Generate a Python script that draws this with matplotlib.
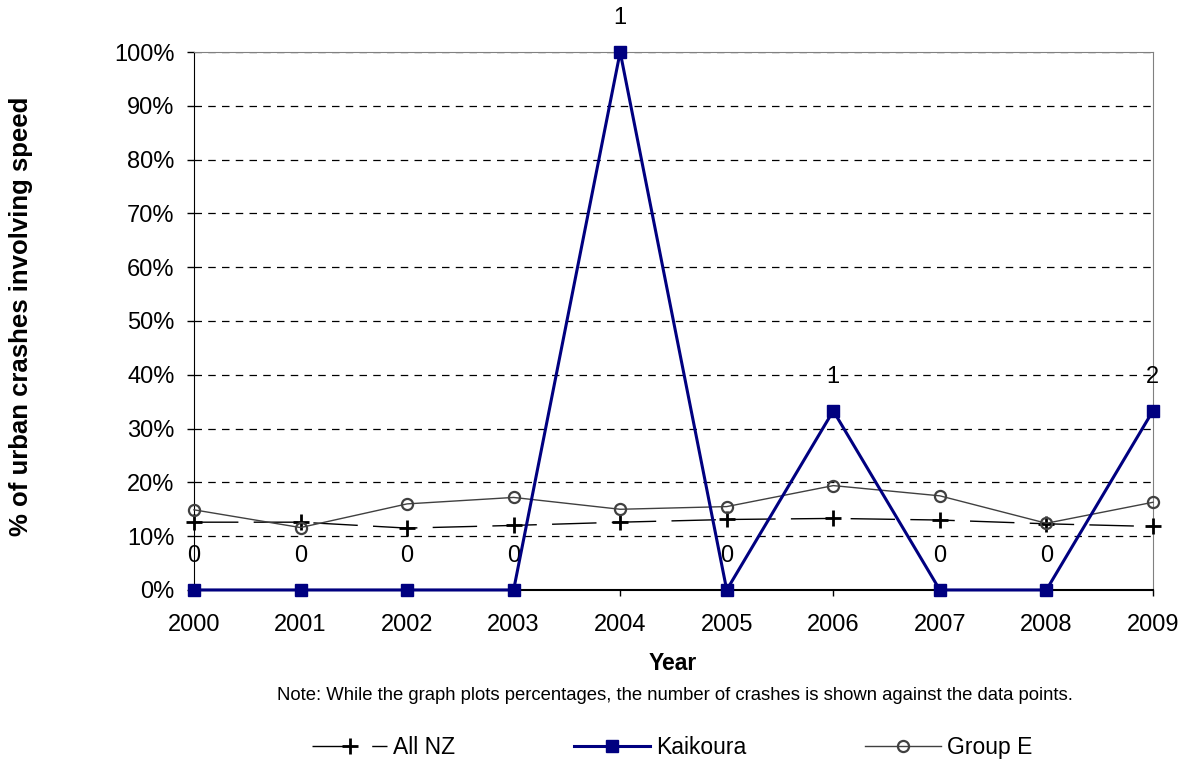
import matplotlib
matplotlib.use("Agg")
import matplotlib.pyplot as plt
import numpy as np

plt.rcParams['font.family'] = ['Liberation Sans', 'DejaVu Sans']

# -------------------------------
# DATA
# -------------------------------
years = [2000, 2001, 2002, 2003, 2004, 2005, 2006, 2007, 2008, 2009]
all_nz = [12.6, 12.6, 11.5, 12.0, 12.6, 13.1, 13.3, 13.0, 12.3, 11.8]
kaikoura = [0, 0, 0, 0, 100, 0, 33.3, 0, 0, 33.3]
group_e = [14.9, 11.6, 16.0, 17.2, 15.0, 15.5, 19.4, 17.5, 12.4, 16.3]
crash_counts = [0, 0, 0, 0, 1, 0, 1, 0, 0, 2]
y_ticks = list(range(0, 101, 10))

# -------------------------------
# PLOT
# -------------------------------
fig = plt.figure(figsize=(11.87, 7.65), dpi=100)
ax = fig.add_axes([0.1634, 0.2288, 0.9713 - 0.1634, 0.932 - 0.2288])

for t in y_ticks[1:]:
    ax.axhline(t, color='black', linestyle=(0, (6, 5)), linewidth=0.9, zorder=0)

ax.plot(years, all_nz, color='black', linewidth=1.0, dashes=(32, 11),
        marker='+', markersize=11, markeredgewidth=2.0, label='All NZ',
        zorder=3, clip_on=False)
ax.plot(years, kaikoura, color='#000080', linewidth=2.2,
        marker='s', markersize=9, label='Kaikoura', zorder=4, clip_on=False)
ax.plot(years, group_e, color='#404040', linewidth=1.0,
        marker='o', markersize=8, markerfacecolor='none', markeredgewidth=1.6,
        label='Group E', zorder=3, clip_on=False)

# crash counts above the Kaikoura points
for x, y, n in zip(years, kaikoura, crash_counts):
    ax.annotate(str(n), (x, y), xytext=(0, 24.5), textcoords='offset points',
                ha='center', va='center', fontsize=17, annotation_clip=False)

ax.set_xlim(2000, 2009)
ax.set_ylim(0, 100)
ax.set_xticks(years)
ax.set_xticklabels([str(y) for y in years], fontsize=17)
ax.set_yticks(y_ticks)
ax.set_yticklabels([f"{t}%" for t in y_ticks], fontsize=17)
ax.tick_params(axis='x', direction='out', length=4, width=1, pad=13)
ax.tick_params(axis='y', direction='out', length=5, width=1, pad=9)

ax.spines['left'].set_color('black')
ax.spines['bottom'].set_color('black')
ax.spines['bottom'].set_linewidth(1.5)
ax.spines['right'].set_color('#808080')
ax.spines['top'].set_color('#808080')

fig.text(0.567, 1 - 664 / 765, 'Year', ha='center', va='center',
         fontsize=16.5, fontweight='bold')
fig.text(0.018, 0.587, '% of urban crashes involving speed', rotation=90,
         ha='center', va='center', fontsize=18.5, fontweight='bold')
fig.text(0.569, 0.0915, 'Note: While the graph plots percentages, the number of crashes is shown against the data points.',
         ha='center', va='center', fontsize=13.3)

fig.legend(loc='center', bbox_to_anchor=(0.566, 0.0235), ncol=3, frameon=False,
           fontsize=16.5, handlelength=3.3, columnspacing=5.2, handletextpad=0.25)

fig.savefig('out.png', dpi=100)
plt.close(fig)
